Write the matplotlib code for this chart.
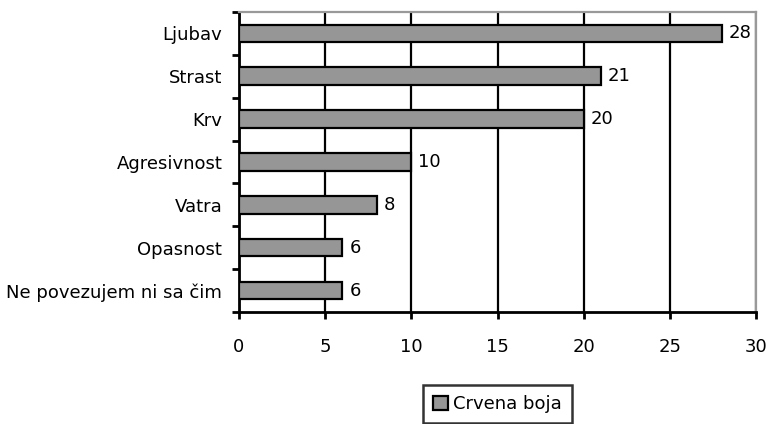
import matplotlib

matplotlib.use("Agg")

import matplotlib.pyplot as plt
import numpy as np

categories = ["Ljubav", "Strast", "Krv", "Agresivnost", "Vatra", "Opasnost", "Ne povezujem ni sa čim"]
values = [28, 21, 20, 10, 8, 6, 6]
series_name = "Crvena boja"
x_ticks = [0, 5, 10, 15, 20, 25, 30]

plt.rcParams["font.family"] = ["DejaVu Sans"]
plt.rcParams["font.size"] = 13

fig = plt.figure(figsize=(7.67, 4.24), dpi=100)
ax = fig.add_axes([0.3116, 0.2642, 0.6741, 0.7075])

n = len(categories)
pos = np.arange(n)[::-1]
bars = ax.barh(pos, values, height=0.41, color="#969696", edgecolor="black",
               linewidth=1.6, zorder=3, label=series_name)

for b, v in zip(bars, values):
    ax.annotate(str(v), (b.get_width(), b.get_y() + b.get_height() / 2),
                xytext=(5, 0), textcoords="offset points", va="center", ha="left")

ax.set_xlim(0, 30)
ax.set_ylim(-0.5, n - 0.5)
ax.set_xticks(x_ticks)
ax.set_yticks(pos)
ax.set_yticklabels(categories)
ax.set_yticks(np.arange(-0.5, n), minor=True)
ax.tick_params(axis="y", which="major", length=0, pad=12)
ax.tick_params(axis="y", which="minor", length=5, width=2, direction="out")
ax.tick_params(axis="x", which="major", length=5, width=2, direction="out", pad=14)

ax.grid(axis="x", color="black", linewidth=1.6, zorder=0)
for s in ["left", "bottom"]:
    ax.spines[s].set_color("black")
    ax.spines[s].set_linewidth(2)
for s in ["top", "right"]:
    ax.spines[s].set_color("#999999")
    ax.spines[s].set_linewidth(1.6)

leg = ax.legend(loc="upper center", bbox_to_anchor=(0.5, -0.245), frameon=True,
                fancybox=False, edgecolor="black", handlelength=0.8, handleheight=0.8,
                handletextpad=0.3, borderpad=0.55, borderaxespad=0)
leg.get_frame().set_linewidth(1.8)

fig.savefig("out.png", dpi=100)
